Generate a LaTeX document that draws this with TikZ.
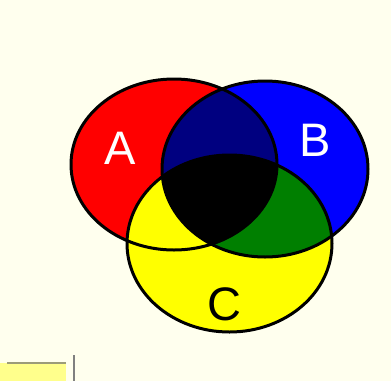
\documentclass[tikz,border=0pt]{standalone}
\usepackage{fontspec}
\setmainfont{Liberation Sans}
\definecolor{bgc}{HTML}{FFFFEE}
\definecolor{redc}{HTML}{FF0000}
\definecolor{bluec}{HTML}{0000FF}
\definecolor{navyc}{HTML}{000080}
\definecolor{greenc}{HTML}{007F00}
\definecolor{yellowc}{HTML}{FFFF00}
\definecolor{paleyel}{HTML}{FFFF8C}
\definecolor{olivec}{HTML}{9C9C78}
\tikzset{
  outline/.style={draw=black, line width=3pt},
  lbl/.style={inner sep=0pt, font=\fontsize{47}{47}\selectfont}
}
\begin{document}
\begin{tikzpicture}[x=1pt,y=-1pt]
\fill[bgc] (0,0) rectangle (391,381);
\useasboundingbox (0,0) rectangle (391,381);
% fills
\fill[redc] (174,164.5) ellipse [x radius=103, y radius=85.5];
\fill[bluec] (265,169) ellipse [x radius=103, y radius=88];
\begin{scope}
  \clip (174,164.5) ellipse [x radius=103, y radius=85.5];
  \fill[navyc] (265,169) ellipse [x radius=103, y radius=88];
\end{scope}
\fill[yellowc] (229.5,243.5) ellipse [x radius=102.5, y radius=88.5];
\begin{scope}
  \clip (265,169) ellipse [x radius=103, y radius=88];
  \fill[greenc] (229.5,243.5) ellipse [x radius=102.5, y radius=88.5];
  \clip (174,164.5) ellipse [x radius=103, y radius=85.5];
  \fill[black] (229.5,243.5) ellipse [x radius=102.5, y radius=88.5];
\end{scope}
% outlines
\draw[outline] (174,164.5) ellipse [x radius=103, y radius=85.5];
\draw[outline] (265,169) ellipse [x radius=103, y radius=88];
\draw[outline] (229.5,243.5) ellipse [x radius=102.5, y radius=88.5];
% labels
\node[lbl, text=white] (la) at (120,148) {A};
\node[lbl, text=white] (lb) at (315,140) {B};
\node[lbl, text=black] (lc) at (224,304) {C};
% bottom-left fragment
\fill[paleyel] (0,363) rectangle (66,381);
\draw[olivec, line width=1.5pt] (7,363) -- (66,363);
\draw[gray, line width=1.2pt] (74,355) -- (74,381);
\end{tikzpicture}
\end{document}
